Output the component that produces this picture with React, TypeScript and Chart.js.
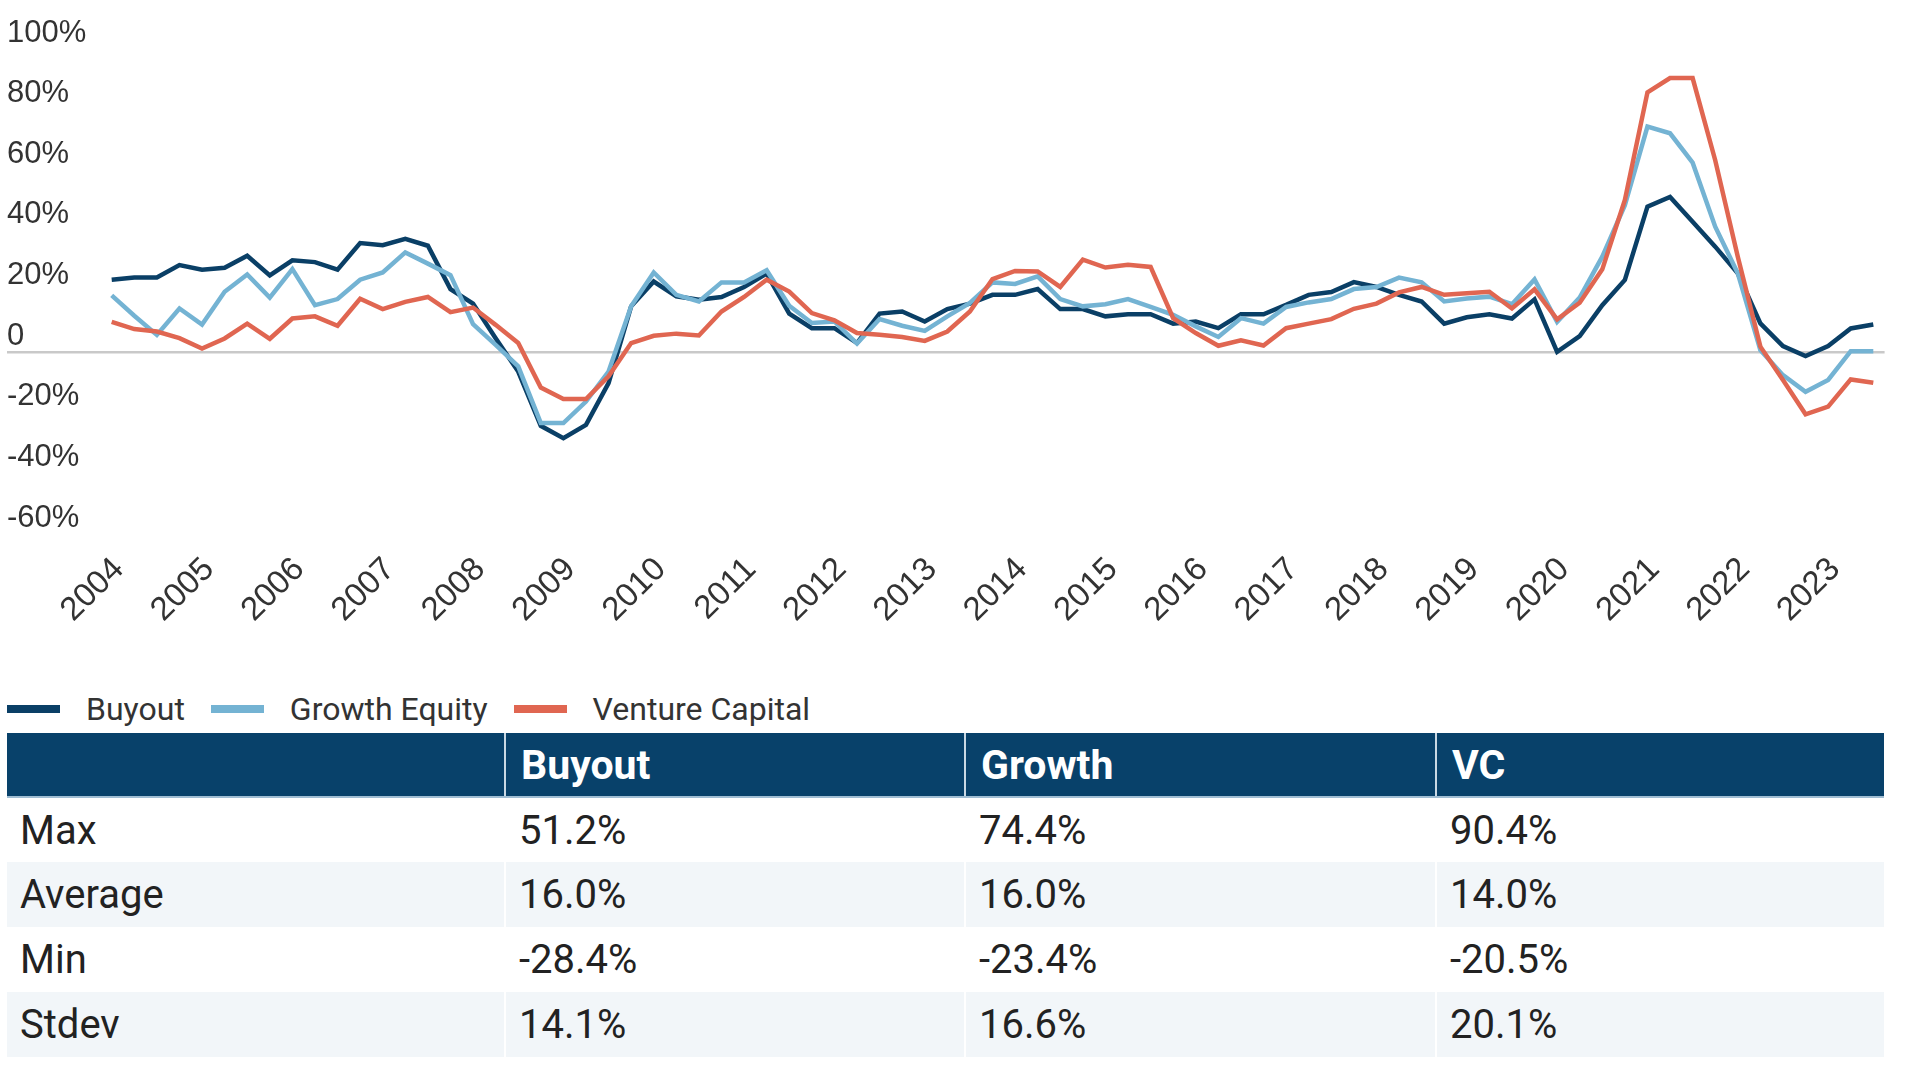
import React, { useEffect, useRef } from 'react';
import { Chart, registerables } from 'chart.js';

Chart.register(...registerables);

const years = ['2004', '2005', '2006', '2007', '2008', '2009', '2010', '2011', '2012', '2013', '2014', '2015', '2016', '2017', '2018', '2019', '2020', '2021', '2022', '2023'];
const quarterNames = ['Q1', 'Q2', 'Q3', 'Q4'];
const pointCount = 79;

const buyout = [
  23.9, 24.6, 24.6, 28.7, 27.2, 27.8, 31.8, 25.3, 30.3, 29.7,
  27.2, 36.0, 35.3, 37.4, 35.1, 20.8, 16.0, 4.6, -6.4, -24.3,
  -28.4, -24.0, -10.2, 15.1, 23.3, 18.4, 17.3, 18.2, 21.5, 25.9,
  12.7, 7.9, 7.9, 3.0, 12.7, 13.4, 10.1, 14.2, 16.0, 18.9,
  18.9, 20.8, 14.2, 14.2, 11.8, 12.5, 12.5, 9.4, 10.1, 7.9,
  12.5, 12.5, 15.6, 18.9, 19.8, 23.1, 21.5, 18.9, 16.7, 9.4,
  11.5, 12.5, 11.1, 17.4, 0.1, 5.3, 15.5, 23.8, 48.0, 51.2,
  43.0, 34.8, 26.0, 9.5, 2.0, -1.3, 2.0, 7.8, 9.1,
];

const growth = [
  18.7, 12.0, 5.7, 14.4, 9.1, 19.9, 25.6, 18.0, 27.4, 15.5,
  17.5, 23.9, 26.3, 32.9, 29.2, 25.4, 9.2, 2.4, -4.7, -23.4,
  -23.4, -16.3, -6.4, 15.1, 26.3, 18.9, 16.7, 23.0, 23.0, 27.0,
  15.3, 9.6, 10.1, 2.8, 10.9, 8.7, 7.0, 11.8, 16.2, 23.0,
  22.5, 25.0, 17.5, 15.1, 15.8, 17.5, 14.9, 12.3, 8.5, 5.0,
  11.2, 9.4, 14.9, 16.4, 17.5, 20.8, 21.5, 24.6, 23.0, 16.7,
  17.7, 18.3, 15.8, 24.0, 10.0, 18.0, 31.5, 48.5, 74.4, 72.2,
  62.5, 41.4, 26.0, 0.7, -7.6, -13.1, -9.2, 0.3, 0.3,
];

const ventureCapital = [
  10.0, 7.6, 6.8, 4.6, 1.2, 4.5, 9.4, 4.4, 11.1, 11.8,
  8.7, 17.6, 14.2, 16.6, 18.2, 13.2, 14.7, 9.0, 3.0, -11.7,
  -15.5, -15.5, -8.0, 3.0, 5.4, 6.1, 5.5, 13.4, 18.2, 23.9,
  20.0, 12.9, 10.5, 6.3, 5.7, 5.0, 3.7, 6.8, 13.4, 24.1,
  26.8, 26.6, 21.5, 30.5, 27.9, 28.8, 28.1, 11.2, 6.3, 2.1,
  3.9, 2.2, 7.9, 9.4, 10.9, 14.3, 16.0, 19.7, 21.5, 18.9,
  19.4, 19.9, 14.4, 20.7, 10.8, 16.3, 27.3, 50.2, 85.7, 90.4,
  90.4, 63.3, 31.5, 1.8, -9.2, -20.5, -18.0, -9.0, -10.1,
];

const seriesNames = ['Buyout', 'Growth Equity', 'Venture Capital'];
const seriesColors = ['#0a3f66', '#74b3d3', '#e06651'];

const tableHeaders = ['', 'Buyout', 'Growth', 'VC'];
const statNames = ['Max', 'Average', 'Min', 'Stdev'];
const buyoutStats = ['51.2%', '16.0%', '-28.4%', '14.1%'];
const growthStats = ['74.4%', '16.0%', '-23.4%', '16.6%'];
const vcStats = ['90.4%', '14.0%', '-20.5%', '20.1%'];

const quarterLabels: string[] = [];
years.forEach((y) => quarterNames.forEach((q) => quarterLabels.push(`${y} ${q}`)));
const labels = quarterLabels.slice(0, pointCount);

const FONT = 'Roboto';
const AXIS_FONT = '"Liberation Sans", Arial, sans-serif';

const zeroLine = {
  id: 'zeroLine',
  beforeDatasetsDraw(chart: any) {
    const { ctx, chartArea, scales } = chart;
    const y = scales.y.getPixelForValue(0);
    ctx.save();
    ctx.strokeStyle = '#c9c9c9';
    ctx.lineWidth = 2.5;
    ctx.beginPath();
    ctx.moveTo(7, y);
    ctx.lineTo(chartArea.right, y);
    ctx.stroke();
    ctx.restore();
  },
};

export default function App() {
  const canvasRef = useRef<HTMLCanvasElement | null>(null);

  useEffect(() => {
    document.body.style.margin = '0';
    const canvas = canvasRef.current;
    if (!canvas) return;
    const chart = new Chart(canvas, {
      type: 'line',
      data: {
        labels,
        datasets: [
          { label: seriesNames[0], data: buyout, borderColor: seriesColors[0], backgroundColor: seriesColors[0], order: 3 },
          { label: seriesNames[1], data: growth, borderColor: seriesColors[1], backgroundColor: seriesColors[1], order: 2 },
          { label: seriesNames[2], data: ventureCapital, borderColor: seriesColors[2], backgroundColor: seriesColors[2], order: 1 },
        ].map((d) => ({ ...d, borderWidth: 4.5, pointRadius: 0, tension: 0, fill: false })),
      },
      options: {
        animation: false,
        responsive: true,
        maintainAspectRatio: false,
        layout: { padding: { left: 7, right: 39.4, top: 49, bottom: 0 } },
        plugins: { legend: { display: false }, tooltip: { enabled: false } },
        scales: {
          x: {
            type: 'category',
            offset: true,
            grid: { display: false },
            border: { display: false },
            afterFit: (s: any) => { s.height = 146; },
            ticks: {
              autoSkip: false,
              minRotation: 45,
              maxRotation: 45,
              padding: 8,
              labelOffset: 7,
              color: '#333333',
              font: { family: AXIS_FONT, size: 33 },
              callback: (_v: any, i: number) => (i % 4 === 0 ? labels[i].slice(0, 4) : ''),
            },
          },
          y: {
            min: -60,
            max: 100,
            grid: { display: false },
            border: { display: false },
            afterFit: (s: any) => { s.width = 93.4; },
            ticks: {
              stepSize: 20,
              crossAlign: 'far',
              padding: 0,
              labelOffset: -16,
              color: '#333333',
              font: { family: AXIS_FONT, size: 31 },
              callback: (v: any) => (Number(v) === 0 ? '0' : `${v}%`),
            },
          },
        },
      },
      plugins: [zeroLine],
    } as any);
    return () => chart.destroy();
  }, []);

  const statColumns = [buyoutStats, growthStats, vcStats];
  const colWidths = [498, 460, 471, 448];

  return (
    <div style={{ position: 'relative', width: 1924, height: 1065, fontFamily: FONT, background: '#fff' }}>
      <div style={{ position: 'absolute', left: 0, top: 0, width: 1924, height: 680 }}>
        <canvas ref={canvasRef} />
      </div>
      <div
        style={{
          position: 'absolute', left: 7, top: 689, height: 40, display: 'flex', alignItems: 'center',
          fontSize: 32, color: '#333333', whiteSpace: 'nowrap',
        }}
      >
        {seriesNames.map((name, i) => (
          <div key={name} style={{ display: 'flex', alignItems: 'center', marginRight: 26 }}>
            <span style={{ display: 'inline-block', width: 53, height: 8, background: seriesColors[i], marginRight: 26 }} />
            <span>{name}</span>
          </div>
        ))}
      </div>
      <table
        style={{
          position: 'absolute', left: 7, top: 733, width: 1877, borderCollapse: 'collapse', tableLayout: 'fixed',
          fontFamily: FONT,
        }}
      >
        <colgroup>
          {colWidths.map((w, i) => <col key={i} style={{ width: w }} />)}
        </colgroup>
        <thead>
          <tr style={{ height: 64, background: '#08416a' }}>
            {tableHeaders.map((h, i) => (
              <th
                key={i}
                style={{
                  textAlign: 'left', color: '#ffffff', fontWeight: 700, fontSize: 41, padding: '0 15px',
                  borderLeft: i > 0 ? '2px solid #c9d8e4' : 'none', borderBottom: '2px solid #9fbdd3',
                }}
              >
                {h}
              </th>
            ))}
          </tr>
        </thead>
        <tbody>
          {statNames.map((name, r) => (
            <tr key={name} style={{ height: 65, background: r % 2 === 1 ? '#f2f6f9' : '#ffffff' }}>
              <td style={{ fontSize: 40, color: '#222222', padding: '0 13px' }}>{name}</td>
              {statColumns.map((col, c) => (
                <td key={c} style={{ fontSize: 40, color: '#222222', padding: '0 13px', borderLeft: '2px solid #ffffff' }}>
                  {col[r]}
                </td>
              ))}
            </tr>
          ))}
        </tbody>
      </table>
    </div>
  );
}
